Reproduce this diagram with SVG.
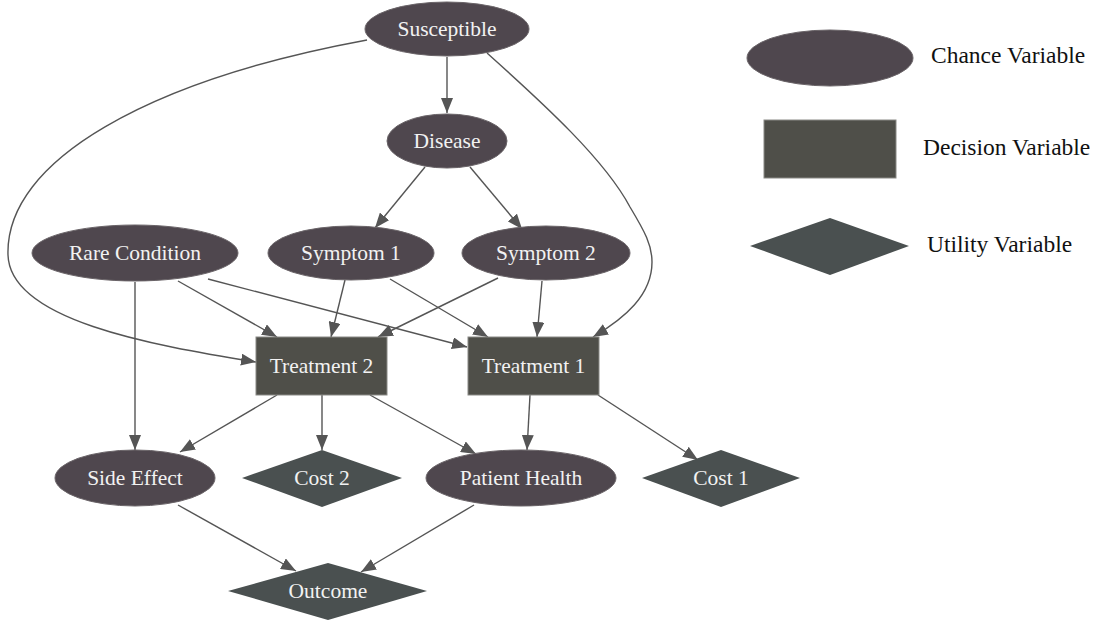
<svg xmlns="http://www.w3.org/2000/svg" width="1101" height="625" viewBox="0 0 1101 625">
<style>
.chance{fill:#4f474e;stroke:#6a6468;stroke-width:1}
.decision{fill:#4f4f49;stroke:#8a8a86;stroke-width:1}
.utility{fill:#4a5050;stroke:none}
.lbl{font-family:"Liberation Serif","Times New Roman",serif;font-size:21.5px;fill:#f2f2f2;text-anchor:middle}
.leg{font-family:"Liberation Serif","Times New Roman",serif;font-size:23.5px;fill:#111}
.edge{fill:none;stroke:#555;stroke-width:1.4;marker-end:url(#ah)}
</style>
<defs>
<marker id="ah" markerUnits="userSpaceOnUse" markerWidth="16" markerHeight="12" refX="15" refY="6" orient="auto">
<path d="M0,0 L15,6 L0,12 Z" fill="#555"/>
</marker>
</defs>
<rect width="1101" height="625" fill="#fff"/>
<g id="connectors">
<path class="edge" d="M447,57 L447,113"/>
<path class="edge" d="M367,40 C150,80 5,160 8,255 C10,320 150,345 256,362"/>
<path class="edge" d="M487,53 C545,105 605,160 630,207 C645,232 652,245 652,262 C652,295 625,318 593,337"/>
<path class="edge" d="M425,167 L375,228"/>
<path class="edge" d="M470,167 L522,229"/>
<path class="edge" d="M178,281 L277,337"/>
<path class="edge" d="M208,279 L467,347"/>
<path class="edge" d="M135,282 L135,450"/>
<path class="edge" d="M345,280 L331,337"/>
<path class="edge" d="M390,279 L488,337"/>
<path class="edge" d="M498,278 L378,337"/>
<path class="edge" d="M542,281 L537,337"/>
<path class="edge" d="M277,395 L180,452"/>
<path class="edge" d="M322,395 L322,450"/>
<path class="edge" d="M370,395 L476,454"/>
<path class="edge" d="M530,395 L527,450"/>
<path class="edge" d="M598,395 L698,460"/>
<path class="edge" d="M178,505 L296,571"/>
<path class="edge" d="M474,505 L361,572"/>
</g>
<g id="susceptible"><ellipse class="chance" cx="447" cy="29" rx="82" ry="27"/><text class="lbl" x="447" y="36">Susceptible</text></g>
<g id="disease"><ellipse class="chance" cx="447" cy="141" rx="60" ry="27"/><text class="lbl" x="447" y="148">Disease</text></g>
<g id="rare-condition"><ellipse class="chance" cx="135" cy="253" rx="103" ry="28"/><text class="lbl" x="135" y="260">Rare Condition</text></g>
<g id="symptom1"><ellipse class="chance" cx="351" cy="253" rx="83" ry="27"/><text class="lbl" x="351" y="260">Symptom 1</text></g>
<g id="symptom2"><ellipse class="chance" cx="546" cy="253" rx="84" ry="27"/><text class="lbl" x="546" y="260">Symptom 2</text></g>
<g id="treatment2"><rect class="decision" x="256" y="337" width="131" height="58"/><text class="lbl" x="321.5" y="373">Treatment 2</text></g>
<g id="treatment1"><rect class="decision" x="468" y="337" width="131" height="58"/><text class="lbl" x="533.5" y="373">Treatment 1</text></g>
<g id="side-effect"><ellipse class="chance" cx="135" cy="478" rx="80" ry="28"/><text class="lbl" x="135" y="485">Side Effect</text></g>
<g id="cost2"><polygon class="utility" points="242,478 322,450 402,478 322,507"/><text class="lbl" x="322" y="485">Cost 2</text></g>
<g id="patient-health"><ellipse class="chance" cx="521" cy="478" rx="95" ry="28"/><text class="lbl" x="521" y="485">Patient Health</text></g>
<g id="cost1"><polygon class="utility" points="642,478 721,450 800,478 721,507"/><text class="lbl" x="721" y="485">Cost 1</text></g>
<g id="outcome"><polygon class="utility" points="228,591 328,563 427,591 328,620"/><text class="lbl" x="328" y="598">Outcome</text></g>
<g id="legend">
<ellipse class="chance" cx="830" cy="58" rx="83" ry="28"/>
<text class="leg" x="931" y="63">Chance Variable</text>
<rect class="decision" x="764" y="120" width="132" height="58"/>
<text class="leg" x="923" y="155">Decision Variable</text>
<polygon class="utility" points="750,246 830,218 909,246 830,275"/>
<text class="leg" x="927" y="252">Utility Variable</text>
</g>
</svg>
